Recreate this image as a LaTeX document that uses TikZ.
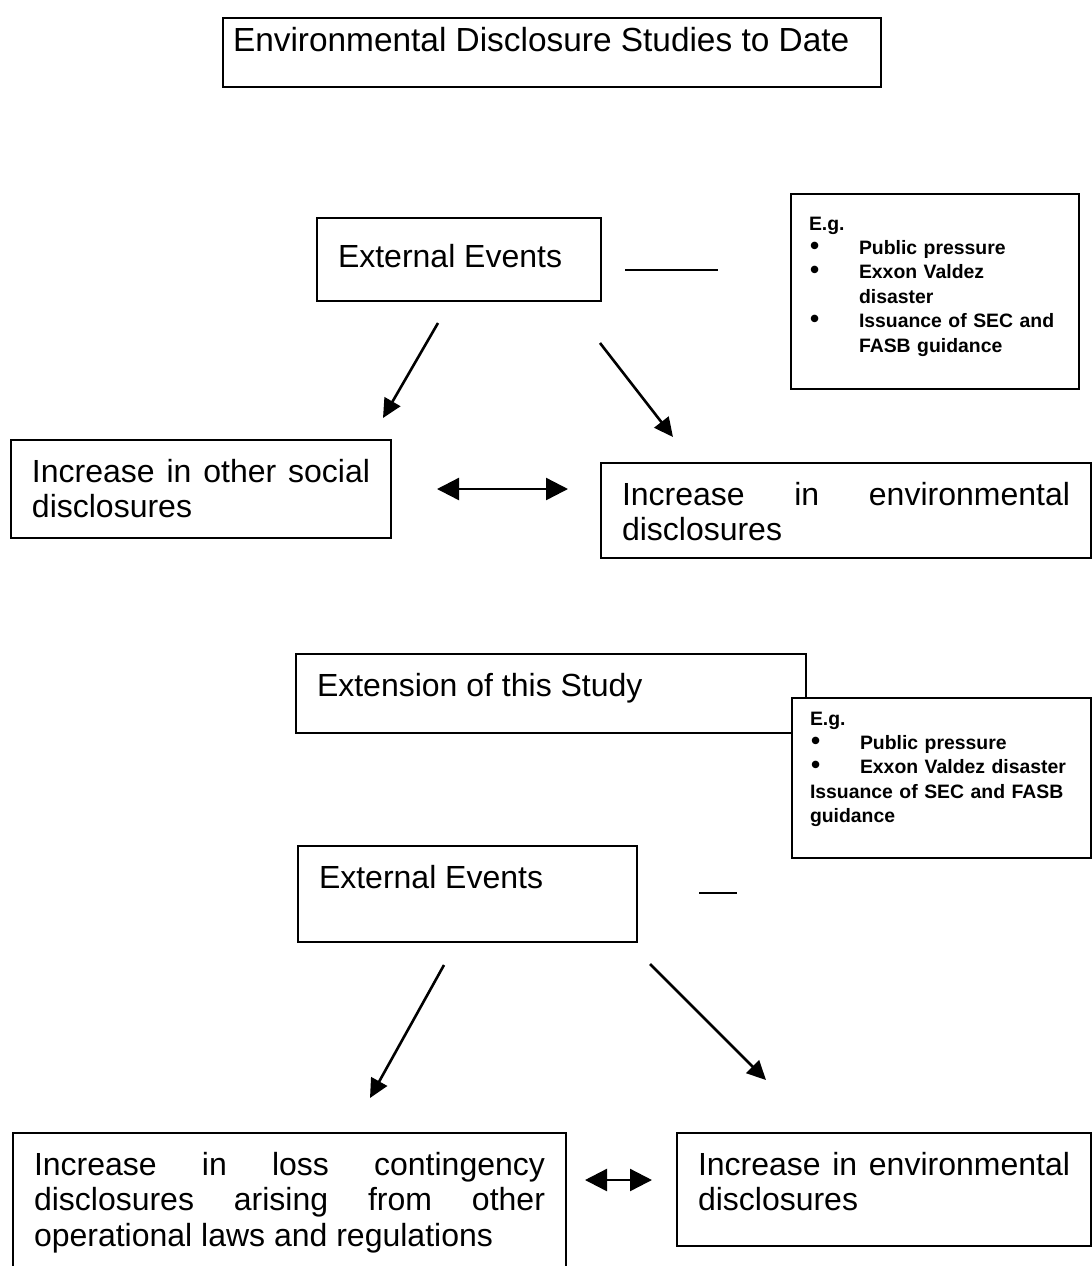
\documentclass[tikz,border=0pt]{standalone}
\usepackage{fontspec}
\setmainfont{Liberation Sans}
\usetikzlibrary{arrows.meta,positioning}
\hyphenpenalty=10000
\tolerance=10000
\tikzset{
  box/.style={draw, line width=1pt, rectangle, anchor=north west, align=justify, font=\fontsize{16}{17.75}\selectfont, inner xsep=10.5pt, inner ysep=9pt, text height=12pt, fill=white},
  note/.style={draw, line width=1pt, rectangle, anchor=north west, align=left, font=\fontsize{9.7}{12.2}\selectfont\bfseries, inner xsep=9pt, text height=8pt, fill=white},
  arr/.style={-{Triangle[length=9.5pt,width=9pt]}, line width=1.3pt},
  darr/.style={{Triangle[length=11pt,width=11pt]}-{Triangle[length=11pt,width=11pt]}, line width=1.2pt},
  tick/.style={line width=1.3pt},
}
\newcommand{\bul}{\makebox[25pt][l]{\hspace*{0.5pt}\fontsize{13}{12}\selectfont\textbullet}}

\begin{document}
\begin{tikzpicture}[x=0.5pt,y=-0.5pt]
\useasboundingbox (0,0) rectangle (1092,1266);
% upper part: studies to date
\node[box, font=\fontsize{16.7}{18}\selectfont, inner xsep=5pt, inner ysep=4.5pt, text width=319pt, text depth=13.5pt] (t) at (222,17) {Environmental Disclosure Studies to Date};
\node[box, inner ysep=12.75pt, text width=121pt, text depth=4pt] (ev1) at (316,217) {External Events};
\node[note, inner ysep=10pt, text width=126pt, text depth=69.5pt] (eg1) at (790,193) {E.g.\\\bul Public pressure\\\bul Exxon Valdez\\\hspace*{25pt}disaster\\\bul Issuance of SEC and\\\hspace*{25pt}FASB guidance};
\node[box, text width=169pt, text depth=19pt] (soc) at (10,439) {Increase in other social disclosures};
\node[box, text width=224pt, text depth=17.5pt] (env1) at (600,462) {Increase in environmental disclosures};
\coordinate (s1a) at (625,270);
\coordinate (s1b) at (718,270);
\coordinate (l1a) at (438,323);
\coordinate (l1b) at (383,418);
\coordinate (r1a) at (600,343);
\coordinate (r1b) at (673,437);
\coordinate (d1a) at (437,489);
\coordinate (d1b) at (568,489);
\draw[tick] (s1a) -- (s1b);
\draw[arr] (l1a) -- (l1b);
\draw[arr] (r1a) -- (r1b);
\draw[darr] (d1a) -- (d1b);
% lower part: this study
\node[box, text width=234pt, text depth=9.5pt] (ext) at (295,653) {Extension of this Study};
\node[note, inner ysep=5.5pt, text width=131.5pt, text depth=61pt] (eg2) at (791,697) {E.g.\\\bul Public pressure\\\bul Exxon Valdez disaster\\Issuance of SEC and FASB\\guidance};
\node[box, text width=148.5pt, text depth=18pt] (ev2) at (297,845) {External Events};
\node[box, text width=255.5pt, text depth=60pt] (loss) at (12,1132) {Increase in loss contingency disclosures arising from other operational laws and regulations};
\node[box, text width=186pt, text depth=26.5pt] (env2) at (676,1132) {Increase in environmental disclosures};
\coordinate (s2a) at (699,893);
\coordinate (s2b) at (737,893);
\coordinate (l2a) at (444,965);
\coordinate (l2b) at (370,1098);
\coordinate (r2a) at (650,964);
\coordinate (r2b) at (766,1080);
\coordinate (d2a) at (585,1180);
\coordinate (d2b) at (652,1180);
\draw[tick] (s2a) -- (s2b);
\draw[arr] (l2a) -- (l2b);
\draw[arr] (r2a) -- (r2b);
\draw[darr] (d2a) -- (d2b);
\end{tikzpicture}
\end{document}
